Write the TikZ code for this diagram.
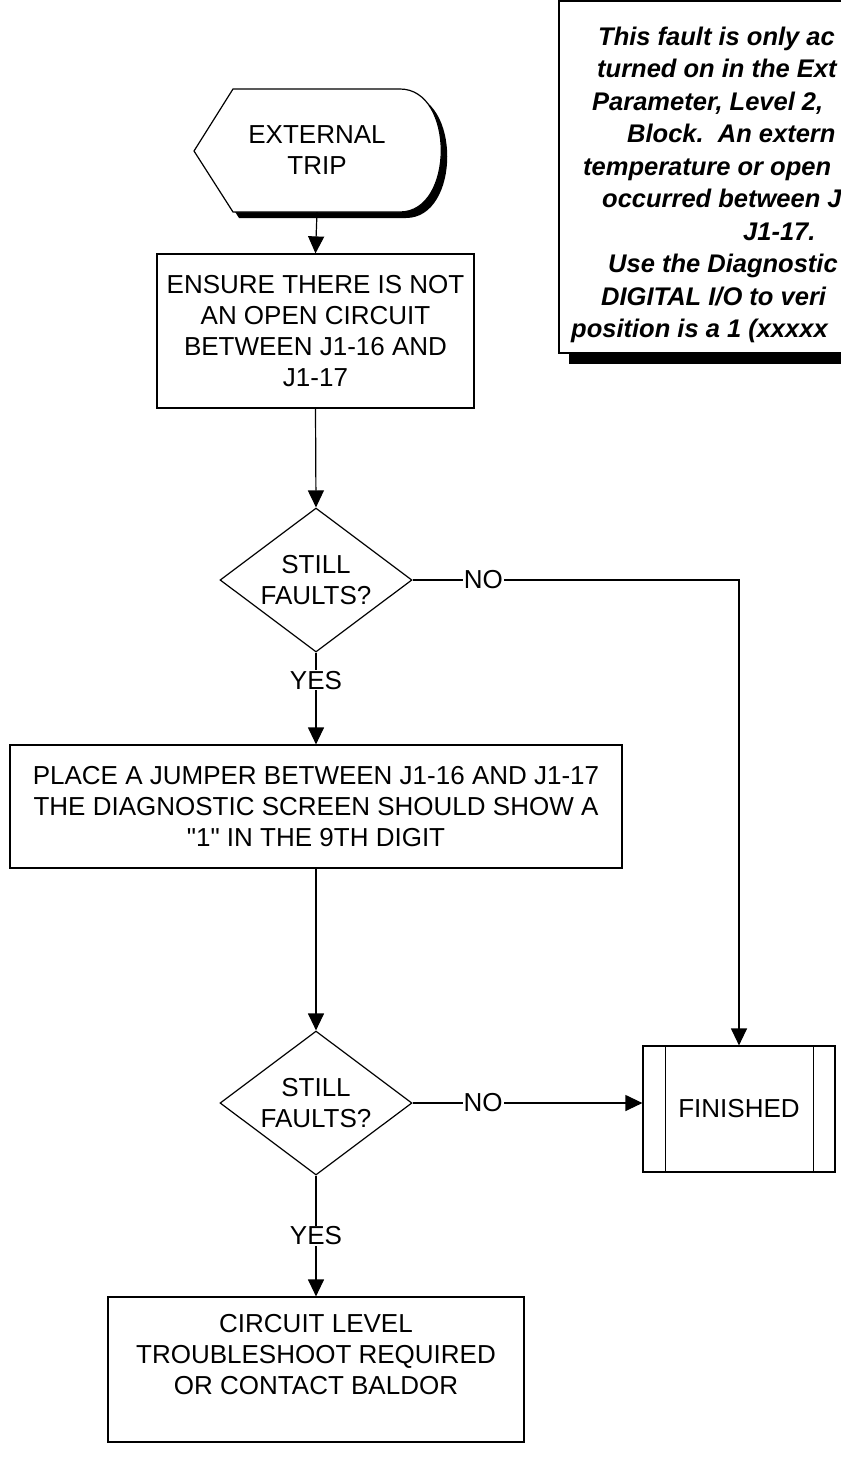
\documentclass[tikz,border=0pt]{standalone}
\usepackage{fontspec}
\setmainfont{Liberation Sans}
\usetikzlibrary{arrows.meta,shapes.geometric}
\begin{document}
\begin{tikzpicture}[x=1pt,y=-1pt,
  txt/.style={font=\fontsize{26}{31}\selectfont, align=center},
  box/.style={draw, line width=1.2pt, fill=white, txt, inner sep=0pt},
  dia/.style={draw, line width=1.2pt, fill=white, txt, shape=diamond, aspect=1.333, inner sep=0pt, minimum width=192pt, minimum height=144pt},
  arr/.style={-{Triangle[length=17pt,width=16pt]}, line width=1.2pt},
  lbl/.style={fill=white, font=\fontsize{26}{31}\selectfont, inner sep=1pt},
  notetxt/.style={font=\fontsize{25.5}{30}\selectfont\bfseries\itshape, anchor=base west, inner sep=0pt}]
\useasboundingbox (0,0) rectangle (841,1468);

% note box with shadow
\fill (569,11) rectangle (1011,364);
\node[draw, line width=1.2pt, fill=white, minimum width=442pt, minimum height=352pt, inner sep=0pt] (note) at (780,177) {};
\node[notetxt] (n1) at (598,45) {This fault is only ac};
\node[notetxt] (n2) at (597,77.5) {turned on in the Ext};
\node[notetxt] (n3) at (592,110) {Parameter, Level 2,};
\node[notetxt] (n4) at (627,142.5) {Block.\ \ An extern};
\node[notetxt] (n5) at (583,175) {temperature or open};
\node[notetxt] (n6) at (602,207.5) {occurred between J};
\node[notetxt] (n7) at (743,240) {J1-17.};
\node[notetxt] (n8) at (608,272.5) {Use the Diagnostic};
\node[notetxt] (n9) at (601,305) {DIGITAL I/O to veri};
\node[notetxt] (n10) at (571,337.5) {position is a 1 (xxxxx};

% start terminal (display shape) with shadow
\fill (200,157) -- (239,95) -- (406,95) .. controls (461,95) and (461,218) .. (406,218) -- (239,218) -- cycle;
\filldraw[fill=white, line width=1.2pt] (194,151) -- (233,89) -- (400,89) .. controls (455,89) and (455,212) .. (400,212) -- (233,212) -- cycle;
\node[txt, minimum width=246pt, minimum height=123pt, inner sep=0pt] (start) at (317,150.5) {EXTERNAL\\TRIP};

\node[box, minimum width=317pt, minimum height=154pt] (b1) at (315.5,331) {ENSURE THERE IS NOT\\AN OPEN CIRCUIT\\BETWEEN J1-16 AND\\J1-17};
\node[dia] (d1) at (316,580) {STILL\\FAULTS?};
\node[box, minimum width=612pt, minimum height=123pt] (b2) at (316,806.5) {PLACE A JUMPER BETWEEN J1-16 AND J1-17\\THE DIAGNOSTIC SCREEN SHOULD SHOW A\\\textquotedbl 1\textquotedbl{} IN THE 9TH DIGIT};
\node[dia] (d2) at (316,1103) {STILL\\FAULTS?};
\node[box, minimum width=192pt, minimum height=126pt] (fin) at (739,1109) {FINISHED};
\draw[line width=1.2pt] ([xshift=23pt]fin.north west) -- ([xshift=23pt]fin.south west);
\draw[line width=1.2pt] ([xshift=-22pt]fin.north east) -- ([xshift=-22pt]fin.south east);
\node[box, minimum width=416pt, minimum height=145pt] (b3) at (316,1369.5) {CIRCUIT LEVEL\\TROUBLESHOOT REQUIRED\\OR CONTACT BALDOR\\\mbox{}};

% connectors
\draw[arr] (start.south) -- (b1.north);
\draw[arr] (b1.south) -- (d1.north);
\draw[arr] (d1.south) -- node[lbl, pos=0.3] {YES} (b2.north);
\draw[arr] (d1.east) -- node[lbl, pos=0.217] {NO} (d1.east -| fin.north) -- (fin.north);
\draw[arr] (b2.south) -- (d2.north);
\draw[arr] (d2.east) -- node[lbl, pos=0.307] {NO} (d2.east -| fin.west);
\draw[arr] (d2.south) -- node[lbl, pos=0.5] {YES} (b3.north);
\end{tikzpicture}
\end{document}
